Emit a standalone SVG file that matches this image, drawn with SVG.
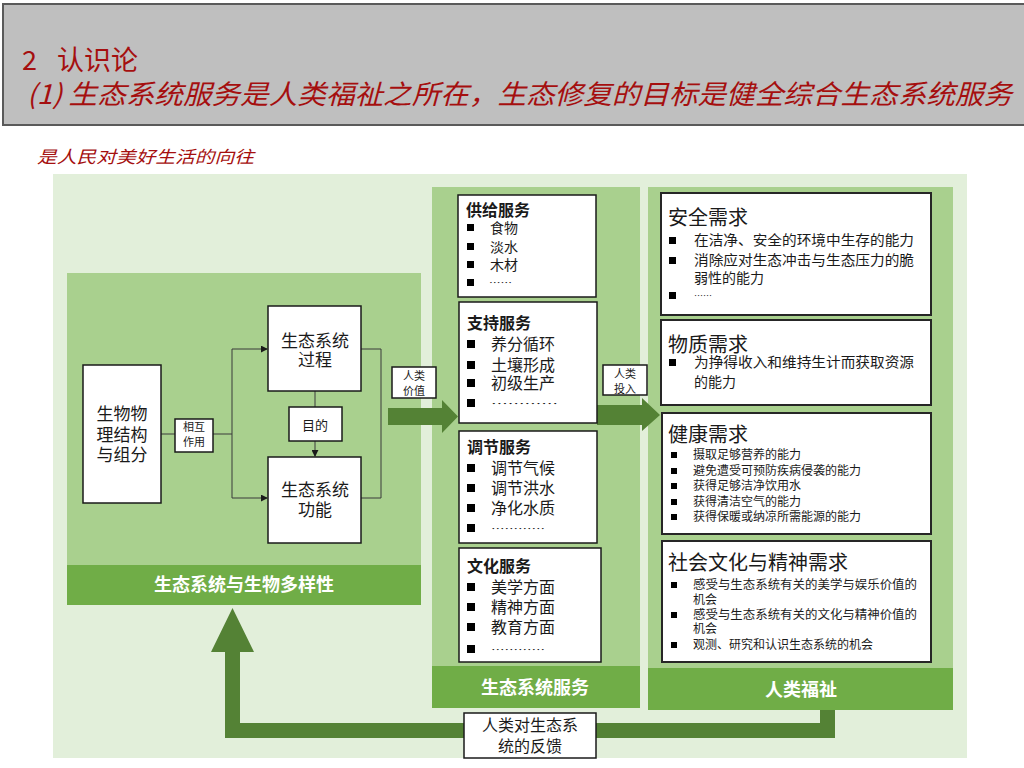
<svg xmlns="http://www.w3.org/2000/svg" width="1024" height="768" viewBox="0 0 1024 768">
<style>
text{font-family:"Noto Sans CJK SC","Noto Sans",sans-serif;fill:#1a1a1a}
.red{fill:#a50f0f}
.box{fill:#fff;stroke:#1a1a1a;stroke-width:1.5}
.rbox{fill:#fff;stroke:#262626;stroke-width:2}
.band{fill:#70ad47}
.panel{fill:#a9d08e}
.bt{fill:#fff;font-weight:bold;font-size:18px}
.mt{font-weight:bold;font-size:16px}
.mi{font-size:16px}
.dots{font-size:9px}
.rt{font-size:20px}
.ri{font-size:14px}
.ri2{font-size:12px}
.c{text-anchor:middle}
.conn{fill:none;stroke:#3a3a3a;stroke-width:1}
.big{fill:#548235}
</style>
<defs>
<marker id="ah" viewBox="0 0 8 8" refX="7" refY="4" markerWidth="7" markerHeight="7" orient="auto" markerUnits="userSpaceOnUse"><path d="M0,0 L8,4 L0,8 Z" fill="#1a1a1a"/></marker>
</defs>
<rect width="1024" height="768" fill="#fff"/>
<g id="header">
<rect x="3" y="4" width="1030" height="121" fill="#bfbfbf" stroke="#5a5a5a" stroke-width="2"/>
<text class="red" x="22" y="70" font-size="27">2</text>
<text class="red" x="57" y="70" font-size="27">认识论</text>
<text class="red" x="27" y="104" font-size="27" font-style="italic" textLength="985" lengthAdjust="spacingAndGlyphs">(1) 生态系统服务是人类福祉之所在，生态修复的目标是健全综合生态系统服务</text>
<text class="red" x="37" y="163" font-size="17" font-style="italic" textLength="217" lengthAdjust="spacingAndGlyphs">是人民对美好生活的向往</text>
</g>
<rect x="53" y="174" width="914" height="584" fill="#e2efda"/>
<g id="panel-biodiversity">
<rect class="panel" x="67" y="273" width="354" height="332"/>
<rect class="band" x="67" y="565" width="354" height="40"/>
<text class="bt c" x="244" y="591">生态系统与生物多样性</text>
</g>
<g id="panel-services">
<rect class="panel" x="432" y="187" width="208" height="521"/>
<rect class="band" x="432" y="666" width="208" height="42"/>
<text class="bt c" x="535" y="694">生态系统服务</text>
</g>
<g id="panel-wellbeing">
<rect class="panel" x="648" y="187" width="305" height="523"/>
<rect class="band" x="648" y="668" width="305" height="42"/>
<text class="bt c" x="801" y="696">人类福祉</text>
</g>
<g id="connectors">
<path class="conn" d="M161,434 H232"/>
<path class="conn" d="M232,349 V498"/>
<path class="conn" d="M232,349 H267" marker-end="url(#ah)"/>
<path class="conn" d="M232,498 H267" marker-end="url(#ah)"/>
<path class="conn" d="M361,349 H381 V498 H361"/>
<path class="conn" d="M315,391 V407"/>
<path class="conn" d="M315,441 V456" marker-end="url(#ah)"/>
<polygon class="big" points="388,408 442,408 442,400 458,416.5 442,433 442,425 388,425"/>
<polygon class="big" points="597,405 642,405 642,398 660,415 642,431 642,425 597,425"/>
<polygon class="big" points="820,710 835,710 835,738 225,738 225,652 211,652 232.5,608 254,652 240,652 240,723 820,723"/>
</g>
<g id="node-biophys">
<rect class="box" x="83" y="365" width="78" height="138"/>
<text class="c" x="122" y="420" font-size="17">生物物</text>
<text class="c" x="122" y="441" font-size="17">理结构</text>
<text class="c" x="122" y="461" font-size="17">与组分</text>
</g>
<g id="node-interaction">
<rect class="box" x="175" y="419" width="38" height="33"/>
<text class="c" x="194" y="431" font-size="11">相互</text>
<text class="c" x="194" y="446" font-size="11">作用</text>
</g>
<g id="node-process">
<rect class="box" x="268" y="306" width="93" height="85"/>
<text class="c" x="315" y="347" font-size="17">生态系统</text>
<text class="c" x="315" y="366" font-size="17">过程</text>
</g>
<g id="node-purpose">
<rect class="box" x="289" y="407" width="53" height="34"/>
<text class="c" x="315" y="430" font-size="13">目的</text>
</g>
<g id="node-function">
<rect class="box" x="268" y="457" width="93" height="86"/>
<text class="c" x="315" y="496" font-size="17">生态系统</text>
<text class="c" x="315" y="516" font-size="17">功能</text>
</g>
<g id="node-human-value">
<rect class="box" x="392" y="367" width="44" height="31"/>
<text class="c" x="414" y="380" font-size="11">人类</text>
<text class="c" x="414" y="395" font-size="11">价值</text>
</g>
<g id="node-human-input">
<rect class="box" x="603" y="365" width="44" height="30"/>
<text class="c" x="625" y="378" font-size="11">人类</text>
<text class="c" x="625" y="393" font-size="11">投入</text>
</g>
<g id="node-provisioning">
<rect class="box" x="458" y="195" width="138" height="102"/>
<text class="mt" x="466" y="216">供给服务</text>
<rect x="467" y="224" width="7" height="7"/><text x="490" y="233" font-size="14">食物</text>
<rect x="467" y="243" width="7" height="7"/><text x="490" y="252" font-size="14">淡水</text>
<rect x="467" y="261" width="7" height="7"/><text x="490" y="270" font-size="14">木材</text>
<rect x="467" y="279" width="7" height="7"/><text class="dots" x="489" y="286" textLength="23" lengthAdjust="spacingAndGlyphs">……</text>
</g>
<g id="node-supporting">
<rect class="box" x="459" y="302" width="138" height="121"/>
<text class="mt" x="467" y="329">支持服务</text>
<rect x="467" y="340" width="8" height="8"/><text class="mi" x="491" y="350">养分循环</text>
<rect x="467" y="361" width="8" height="8"/><text class="mi" x="491" y="371">土壤形成</text>
<rect x="467" y="379" width="8" height="8"/><text class="mi" x="491" y="389">初级生产</text>
<rect x="467" y="399" width="8" height="8"/><text class="dots" x="491" y="407" textLength="67" lengthAdjust="spacingAndGlyphs">…………</text>
</g>
<g id="node-regulating">
<rect class="box" x="459" y="431" width="138" height="112"/>
<text class="mt" x="467" y="453">调节服务</text>
<rect x="467" y="464" width="8" height="8"/><text class="mi" x="491" y="474">调节气候</text>
<rect x="467" y="484" width="8" height="8"/><text class="mi" x="491" y="494">调节洪水</text>
<rect x="467" y="504" width="8" height="8"/><text class="mi" x="491" y="514">净化水质</text>
<rect x="467" y="524" width="8" height="8"/><text class="dots" x="491" y="532" textLength="54" lengthAdjust="spacingAndGlyphs">…………</text>
</g>
<g id="node-cultural">
<rect class="box" x="459" y="548" width="142" height="114"/>
<text class="mt" x="467" y="572">文化服务</text>
<rect x="467" y="583" width="8" height="8"/><text class="mi" x="491" y="593">美学方面</text>
<rect x="467" y="603" width="8" height="8"/><text class="mi" x="491" y="613">精神方面</text>
<rect x="467" y="623" width="8" height="8"/><text class="mi" x="491" y="633">教育方面</text>
<rect x="467" y="645" width="8" height="8"/><text class="dots" x="491" y="653" textLength="54" lengthAdjust="spacingAndGlyphs">…………</text>
</g>
<g id="node-security">
<rect class="rbox" x="661" y="193" width="270" height="122"/>
<text class="rt" x="668" y="225">安全需求</text>
<rect x="669" y="237" width="7" height="7"/><text class="ri" x="694" y="245" textLength="220" lengthAdjust="spacingAndGlyphs">在洁净、安全的环境中生存的能力</text>
<rect x="669" y="257" width="7" height="7"/><text class="ri" x="694" y="265" textLength="220" lengthAdjust="spacingAndGlyphs">消除应对生态冲击与生态压力的脆</text>
<text class="ri" x="694" y="283">弱性的能力</text>
<rect x="669" y="292" width="7" height="7"/><text class="dots" x="694" y="299">……</text>
</g>
<g id="node-material">
<rect class="rbox" x="661" y="320" width="270" height="85"/>
<text class="rt" x="668" y="352">物质需求</text>
<rect x="669" y="359" width="7" height="7"/><text class="ri" x="694" y="367" textLength="220" lengthAdjust="spacingAndGlyphs">为挣得收入和维持生计而获取资源</text>
<text class="ri" x="694" y="387">的能力</text>
</g>
<g id="node-health">
<rect class="rbox" x="662" y="413" width="269" height="121"/>
<text class="rt" x="668" y="442">健康需求</text>
<rect x="671" y="452" width="6" height="6"/><text class="ri2" x="693" y="459">摄取足够营养的能力</text>
<rect x="671" y="468" width="6" height="6"/><text class="ri2" x="693" y="475">避免遭受可预防疾病侵袭的能力</text>
<rect x="671" y="483" width="6" height="6"/><text class="ri2" x="693" y="490">获得足够洁净饮用水</text>
<rect x="671" y="499" width="6" height="6"/><text class="ri2" x="693" y="506">获得清洁空气的能力</text>
<rect x="671" y="514" width="6" height="6"/><text class="ri2" x="693" y="521">获得保暖或纳凉所需能源的能力</text>
</g>
<g id="node-social">
<rect class="rbox" x="662" y="541" width="269" height="121"/>
<text class="rt" x="668" y="570" font-size="21">社会文化与精神需求</text>
<rect x="671" y="582" width="6" height="6"/><text class="ri2" x="693" y="589" textLength="224" lengthAdjust="spacingAndGlyphs">感受与生态系统有关的美学与娱乐价值的</text>
<text class="ri2" x="693" y="604">机会</text>
<rect x="671" y="612" width="6" height="6"/><text class="ri2" x="693" y="619" textLength="224" lengthAdjust="spacingAndGlyphs">感受与生态系统有关的文化与精神价值的</text>
<text class="ri2" x="693" y="633">机会</text>
<rect x="671" y="642" width="6" height="6"/><text class="ri2" x="693" y="649">观测、研究和认识生态系统的机会</text>
</g>
<g id="node-feedback">
<rect class="box" x="464" y="713" width="132" height="45"/>
<text class="c" x="530" y="731" font-size="16">人类对生态系</text>
<text class="c" x="530" y="752" font-size="16">统的反馈</text>
</g>
</svg>
